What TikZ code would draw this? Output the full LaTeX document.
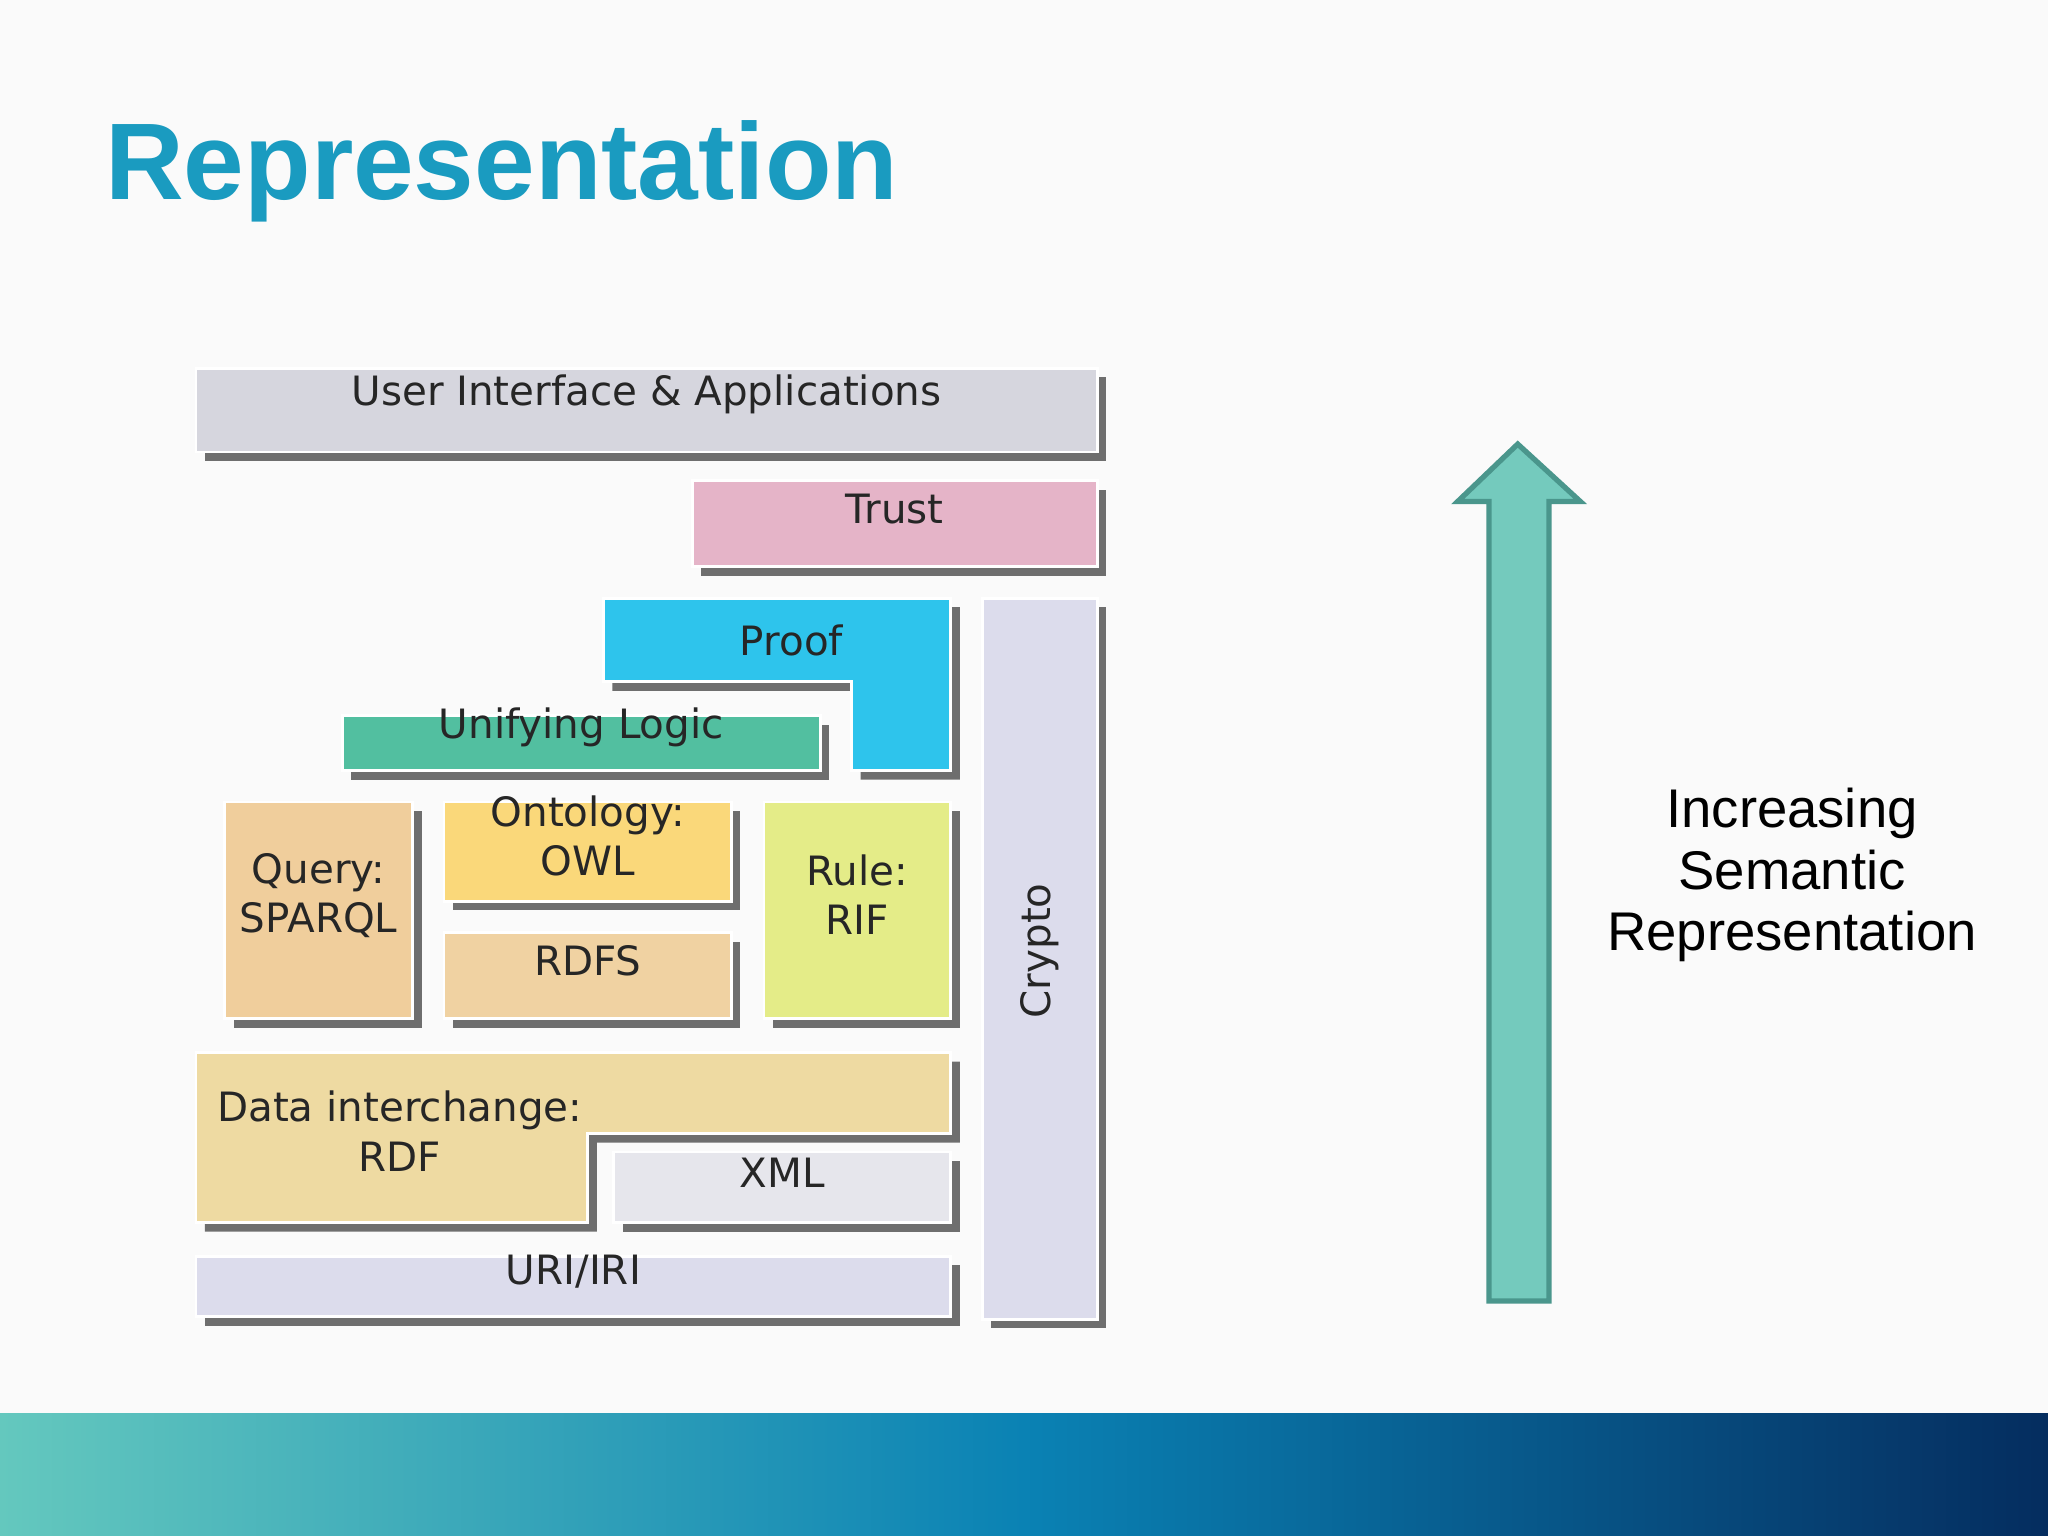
\documentclass[tikz,border=0pt]{standalone}
\usepackage{fontspec}
\setmainfont{Liberation Sans}
\newfontfamily\boxfont{DejaVu Sans}
\usetikzlibrary{shadows,fit}
\definecolor{titleblue}{HTML}{1A9BC0}
\begin{document}
\begin{tikzpicture}[x=0.013061cm,y=-0.013061cm,
  shd/.style={drop shadow={shadow xshift=0.9mm,shadow yshift=-0.9mm,fill=black!75,opacity=0.75}},
  box/.style={shd,draw=white,line width=0.8pt,inner sep=0pt,font=\boxfont\fontsize{11.5}{14}\selectfont,align=center,text=black!85},
  lbl/.style={font=\boxfont\fontsize{11.5}{14}\selectfont,align=center,text=black!85}]
\useasboundingbox (0,0) rectangle (1568,1176);
\fill[black!2] (0,0) rectangle (1568,1176);
\shade[left color={rgb,255:red,100;green,200;blue,190},right color={rgb,255:red,5;green,45;blue,95},middle color={rgb,255:red,10;green,130;blue,180}] (0,1082) rectangle (1568,1176);
\node[anchor=base west,font=\bfseries\fontsize{31}{36}\selectfont,text=titleblue,inner sep=0] (title) at (80,153) {Representation};
% boxes
\node[box,fill={rgb,255:red,214;green,214;blue,222},fit={(150,282)(840,346)}] (ui) {User Interface \& Applications};
\node[box,fill={rgb,255:red,229;green,180;blue,200},fit={(530,368)(840,434)}] (trust) {\hspace*{0pt}Trust};
\node[box,fill={rgb,255:red,220;green,220;blue,236},fit={(752,458)(840,1010)}] (crypto) {};
\node[lbl,rotate=90] (cryptot) at (796,728) {Crypto};
\path[shd,fill={rgb,255:red,46;green,196;blue,236},draw=white,line width=0.8pt] (462,458) -- (728,458) -- (728,590) -- (652,590) -- (652,522) -- (462,522) -- cycle;
\node[lbl] (proof) at (606,490) {Proof};
\node[box,fill={rgb,255:red,82;green,191;blue,160},fit={(262,548)(628,590)}] (logic) {Unifying Logic};
\node[box,fill={rgb,255:red,240;green,206;blue,156},fit={(172,614)(316,780)}] (query) {Query:\\SPARQL};
\node[box,fill={rgb,255:red,250;green,216;blue,122},fit={(340,614)(560,690)}] (owl) {Ontology:\\OWL};
\node[box,fill={rgb,255:red,240;green,210;blue,162},fit={(340,714)(560,780)}] (rdfs) {RDFS};
\node[box,fill={rgb,255:red,228;green,236;blue,136},fit={(585,614)(728,780)}] (rule) {Rule:\\RIF};
\path[shd,fill={rgb,255:red,238;green,218;blue,162},draw=white,line width=0.8pt] (150,806) -- (728,806) -- (728,868) -- (450,868) -- (450,936) -- (150,936) -- cycle;
\node[lbl] (rdf) at (306,866) {Data interchange:\\RDF};
\node[box,fill={rgb,255:red,230;green,230;blue,236},fit={(470,882)(728,936)}] (xml) {XML};
\node[box,fill={rgb,255:red,220;green,220;blue,236},fit={(150,962)(728,1008)}] (uri) {URI/IRI};
% arrow
\path[fill={rgb,255:red,116;green,202;blue,189},draw={rgb,255:red,74;green,150;blue,140},line width=1.5pt]
 (1140,996) -- (1140,384) -- (1116,384) -- (1162,340) -- (1210,384) -- (1186,384) -- (1186,996) -- cycle;
\node[align=center,font=\fontsize{15.5}{17.5}\selectfont] (inc) at (1372,670) {Increasing\\Semantic\\Representation};
\end{tikzpicture}
\end{document}
